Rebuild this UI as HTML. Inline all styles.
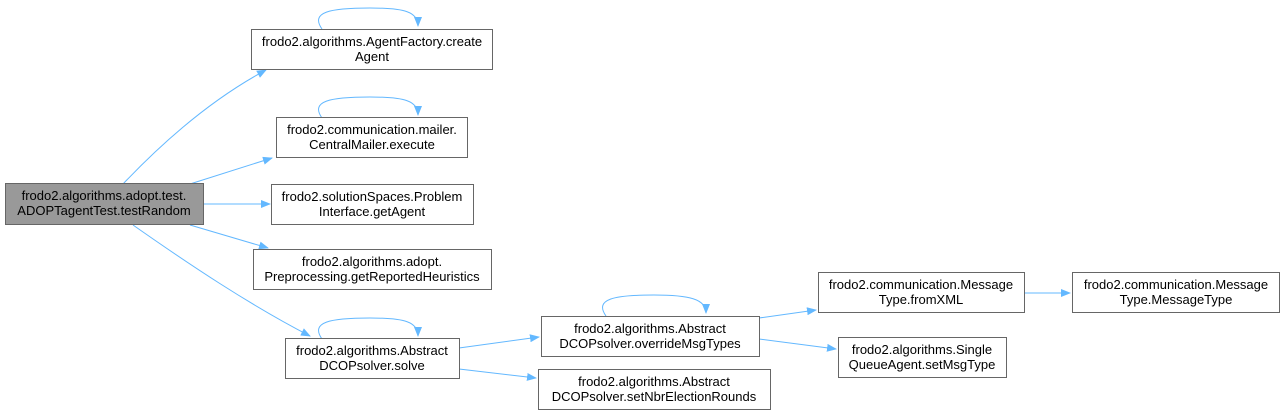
<!DOCTYPE html>
<html><head><meta charset="utf-8"><style>
html,body{margin:0;padding:0;background:#fff;width:1284px;height:417px;overflow:hidden}
text{font-family:"Liberation Sans",Helvetica,Arial,sans-serif;font-size:13px;fill:#000}
</style></head><body>
<svg width="1284" height="417" viewBox="0 0 1284 417" xmlns="http://www.w3.org/2000/svg">
<defs><marker id="a" markerWidth="10" markerHeight="8" refX="9" refY="4" orient="auto" markerUnits="userSpaceOnUse"><path d="M0,0L10,4L0,8z" fill="#63b8ff"/></marker></defs>
<g fill="none" stroke="#63b8ff" stroke-width="1" marker-end="url(#a)">
<path d="M123,184C160,145 210,100 266,70"/>
<path d="M190,184L272,158"/>
<path d="M204,204L270,204"/>
<path d="M190,225L268,248"/>
<path d="M133,225C190,265 250,305 310,336"/>
<path d="M322,29C310,12 330,8 370,8C405,8 418,12 418,26"/>
<path d="M322,118C310,101 330,97 370,97C405,97 418,101 418,115"/>
<path d="M322,339C310,322 330,318 370,318C405,318 418,322 418,336"/>
<path d="M606,316C594,299 614,295 654,295C689,295 706,299 706,313"/>
<path d="M459,348L539,337"/>
<path d="M459,369L536,378"/>
<path d="M759,318L816,310"/>
<path d="M759,339L836,349"/>
<path d="M1024,293L1070,293"/>
</g>
<g stroke="#666" stroke-width="1">
<rect x="5.5" y="183.5" width="198" height="41" fill="#999"/>
<rect x="251.5" y="29.5" width="241" height="40" fill="#fff"/>
<rect x="276.5" y="117.5" width="191" height="40" fill="#fff"/>
<rect x="271.5" y="184.5" width="202" height="40" fill="#fff"/>
<rect x="253.5" y="249.5" width="238" height="40" fill="#fff"/>
<rect x="285.5" y="338.5" width="174" height="40" fill="#fff"/>
<rect x="541.5" y="316.5" width="218" height="40" fill="#fff"/>
<rect x="538.5" y="369.5" width="232" height="40" fill="#fff"/>
<rect x="818.5" y="272.5" width="206" height="40" fill="#fff"/>
<rect x="838.5" y="337.5" width="168" height="40" fill="#fff"/>
<rect x="1072.5" y="272.5" width="207" height="40" fill="#fff"/>
</g>
<g text-anchor="middle">
<text x="104" y="200">frodo2.algorithms.adopt.test.</text><text x="104" y="215">ADOPTagentTest.testRandom</text>
<text x="372" y="46">frodo2.algorithms.AgentFactory.create</text><text x="372" y="61">Agent</text>
<text x="372" y="134">frodo2.communication.mailer.</text><text x="372" y="149">CentralMailer.execute</text>
<text x="372" y="201">frodo2.solutionSpaces.Problem</text><text x="372" y="216">Interface.getAgent</text>
<text x="372" y="266">frodo2.algorithms.adopt.</text><text x="372" y="281">Preprocessing.getReportedHeuristics</text>
<text x="372" y="355">frodo2.algorithms.Abstract</text><text x="372" y="370">DCOPsolver.solve</text>
<text x="650" y="333">frodo2.algorithms.Abstract</text><text x="650" y="348">DCOPsolver.overrideMsgTypes</text>
<text x="654" y="386">frodo2.algorithms.Abstract</text><text x="654" y="401">DCOPsolver.setNbrElectionRounds</text>
<text x="921" y="289">frodo2.communication.Message</text><text x="921" y="304">Type.fromXML</text>
<text x="922" y="354">frodo2.algorithms.Single</text><text x="922" y="369">QueueAgent.setMsgType</text>
<text x="1176" y="289">frodo2.communication.Message</text><text x="1176" y="304">Type.MessageType</text>
</g>
</svg>
</body></html>
